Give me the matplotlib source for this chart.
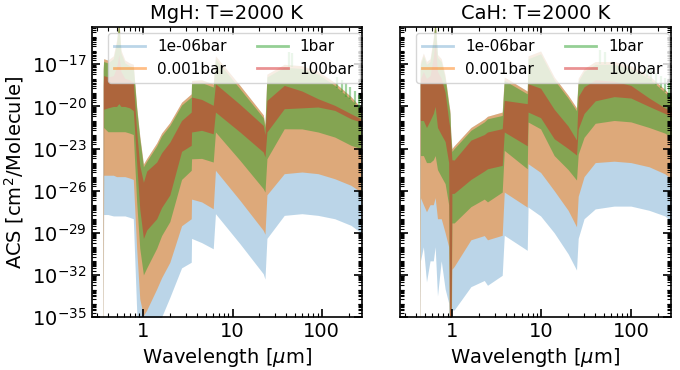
import numpy as np
import matplotlib
matplotlib.use("Agg")
import matplotlib.pyplot as plt
from matplotlib.lines import Line2D
from matplotlib.ticker import LogLocator, FixedLocator, NullFormatter

# ---------------- data (log10 of cross-section envelopes) ----------------
labels = ["1e-06bar", "0.001bar", "1bar", "100bar"]
colors = ["#1f77b4", "#ff7f0e", "#2ca02c", "#d62728"]
alphas = [0.3, 0.5, 0.5, 0.5]

# MgH
mgh_wl = [0.354, 0.358, 0.40, 0.46, 0.50, 0.53, 0.56, 0.62, 0.70, 0.77, 0.84, 0.91, 1.00,
          1.09, 1.41, 1.60, 1.98, 2.68, 3.44, 3.47, 4.5, 6.07, 6.43, 12.1, 22.1, 23.1, 24.3,
          38, 60, 91, 140, 213, 276]
mgh_b_lo = [-40, -27.7, -27.7, -27.8, -27.8, -27.8, -27.8, -27.8, -27.9, -28.0, -34.5, -38, -40,
            -40, -36, -35, -33.6, -31.5, -31.1, -29.4, -29.7, -30.14, -27.64, -29.78, -31.92, -32.3, -29.4,
            -27.76, -27.64, -27.76, -28.0, -28.47, -29.0]
mgh_o_lo = [-40, -24.9, -24.9, -24.9, -25.0, -25.0, -25.0, -25.0, -25.1, -25.2, -30.1, -33.7, -34.9,
            -34.5, -33.0, -32.2, -31.1, -28.5, -28.0, -26.6, -26.8, -27.29, -24.55, -26.69, -28.83, -29.1, -26.3,
            -24.79, -24.67, -24.79, -25.15, -25.62, -26.1]
mgh_g_lo = [-40, -21.5, -21.8, -21.8, -21.8, -21.8, -21.8, -21.8, -21.9, -22.0, -26.8, -30.1, -32.0,
            -31.5, -30.1, -29.2, -28.2, -25.2, -24.55, -23.73, -23.7, -23.96, -21.82, -23.84, -25.86, -26.1, -23.73,
            -21.59, -21.6, -21.82, -22.18, -22.77, -23.0]
mgh_r_lo = [-40, -20.2, -20.1, -20.0, -20.0, -19.8, -20.0, -20.0, -20.1, -20.3, -24.0, -27.3, -29.4,
            -28.8, -28.0, -27.2, -26.3, -23.2, -22.77, -21.82, -21.7, -21.95, -20.40, -21.82, -23.25, -23.6, -21.82,
            -20.16, -20.1, -20.04, -20.28, -20.88, -21.11]
mgh_r_hi = [-18.5, -17.8, -17.9, -17.8, -17.2, -16.3, -17.5, -18.0, -18.1, -18.3, -21.8, -24.2, -25.4,
            -24.6, -23.96, -23.3, -22.54, -21.0, -20.4, -19.33, -19.5, -19.92, -18.38, -19.85, -21.35, -22.0, -19.57,
            -18.5, -18.9, -19.45, -19.92, -20.52, -20.88]
mgh_g_hi = [-17.5, -16.8, -16.9, -16.6, -15.5, -14.0, -16.2, -16.9, -17.1, -17.2, -20.2, -22.3, -24.3,
            -23.9, -22.8, -22.1, -21.35, -19.9, -19.33, -18.38, -18.3, -18.62, -16.6, -18.74, -20.8, -21.5, -17.9,
            -17.2, -17.3, -17.7, -18.5, -19.5, -20.3]
mgh_o_hi = [-17.3, -16.6, -16.7, -16.4, -15.3, -13.8, -16.0, -16.7, -16.9, -17.0, -20.0, -22.1, -24.1,
            -23.7, -22.6, -21.9, -21.15, -19.7, -19.1, -18.15, -18.1, -18.4, -16.4, -18.5, -20.6, -21.3, -17.7,
            -17.0, -17.1, -17.5, -18.3, -19.3, -20.1]
mgh_b_hi = mgh_o_hi
# individual strong rotational lines standing above the 1 bar band (long wavelengths)
mgh_line_wl = [43, 47, 150, 168, 188, 210, 234, 260]
mgh_line_base = [-17.2, -17.2, -18.7, -19.0, -19.3, -19.5, -19.8, -20.1]
mgh_line_top = [-16.1, -16.2, -17.9, -18.1, -18.3, -18.6, -18.9, -19.2]

# CaH
cah_wl = [0.441, 0.445, 0.48, 0.52, 0.57, 0.62, 0.65, 0.69, 0.76, 0.84, 0.92, 0.95, 0.97, 1.00,
          1.06, 1.63, 2.3, 2.5, 3.65, 3.85, 6.95, 7.1, 9.8, 13.9, 19.9, 24.7, 25.8,
          30, 40, 65, 100, 160, 240, 300]
cah_b_lo = [-40, -31.0, -30.0, -32.5, -31.0, -31.0, -30.0, -33.5, -31.0, -33.0, -34.0, -40, -40, -34.5,
            -34.5, -32.84, -32.4, -32.74, -32.03, -29.18, -30.25, -27.17, -27.8, -29.0, -30.5, -31.65, -29.4,
            -28.0, -27.3, -27.1, -27.1, -27.4, -27.8, -28.3]
cah_o_lo = [-40, -26.5, -27.0, -27.5, -27.0, -27.0, -26.5, -28.0, -28.0, -29.0, -30.0, -40, -40, -31.6,
            -31.4, -29.5, -29.2, -29.5, -29.18, -26.1, -27.17, -24.08, -24.7, -26.0, -27.4, -28.57, -26.4,
            -25.0, -24.0, -23.9, -24.0, -24.3, -24.8, -25.3]
cah_g_lo = [-40, -23.5, -23.5, -24.0, -24.0, -23.8, -23.5, -24.5, -25.0, -25.5, -27.0, -40, -40, -28.3,
            -28.3, -27.14, -26.6, -26.8, -26.1, -23.13, -24.44, -21.11, -21.6, -23.5, -24.5, -25.24, -23.4,
            -22.2, -21.2, -21.0, -21.1, -21.5, -21.9, -22.3]
cah_r_lo = [-40, -21.0, -21.0, -21.5, -21.0, -20.5, -20.0, -21.5, -22.0, -22.5, -24.0, -40, -40, -26.2,
            -26.19, -25.2, -24.6, -24.44, -24.2, -21.82, -22.8, -20.40, -20.8, -22.3, -23.0, -23.46, -21.6,
            -20.5, -19.6, -19.3, -19.4, -20.0, -20.5, -20.8]
cah_r_hi = [-18.5, -18.0, -17.5, -18.0, -17.8, -16.5, -15.3, -17.5, -18.0, -19.0, -21.0, -21.5, -22.5, -23.8,
            -23.82, -22.4, -22.0, -21.82, -21.58, -19.57, -19.8, -18.38, -18.7, -20.2, -21.4, -22.39, -19.3,
            -18.6, -18.1, -18.2, -18.5, -19.4, -20.1, -20.4]
cah_g_hi = [-17.5, -17.0, -16.4, -17.0, -16.8, -15.3, -14.0, -16.5, -16.8, -18.0, -19.9, -20.5, -22.0, -23.2,
            -23.0, -21.7, -21.1, -20.88, -20.64, -18.14, -19.1, -16.6, -16.25, -18.1, -19.4, -20.3, -18.2,
            -17.5, -17.0, -17.0, -17.3, -18.0, -19.0, -19.6]
cah_o_hi = [-17.3, -16.8, -16.2, -16.8, -16.6, -15.1, -13.8, -16.3, -16.6, -17.8, -19.7, -20.3, -21.8, -23.0,
            -22.8, -21.5, -20.9, -20.7, -20.4, -17.9, -18.9, -16.4, -16.05, -17.9, -19.2, -20.1, -18.0,
            -17.3, -16.8, -16.8, -17.1, -17.8, -18.8, -19.4]
cah_b_hi = cah_o_hi
cah_line_wl = [45, 52, 150, 170, 192, 215, 240, 268, 292]
cah_line_base = [-17.0, -17.0, -17.9, -18.2, -18.5, -18.7, -19.0, -19.3, -19.5]
cah_line_top = [-16.0, -16.1, -17.2, -17.4, -17.6, -17.8, -18.0, -18.3, -18.6]

panels = [
    ("MgH: T=2000 K", mgh_wl,
     [(mgh_b_lo, mgh_b_hi), (mgh_o_lo, mgh_o_hi), (mgh_g_lo, mgh_g_hi), (mgh_r_lo, mgh_r_hi)],
     (mgh_line_wl, mgh_line_base, mgh_line_top)),
    ("CaH: T=2000 K", cah_wl,
     [(cah_b_lo, cah_b_hi), (cah_o_lo, cah_o_hi), (cah_g_lo, cah_g_hi), (cah_r_lo, cah_r_hi)],
     (cah_line_wl, cah_line_base, cah_line_top)),
]

y_major = [1e-35, 1e-32, 1e-29, 1e-26, 1e-23, 1e-20, 1e-17]

# ---------------- figure ----------------
fig = plt.figure(figsize=(6.8, 3.7), dpi=100)
W, H = 680.0, 370.0
ax_rects = [(91.7, 27.0, 361.7, 317.0), (400.0, 27.0, 671.0, 317.0)]

for i, ((title, wl, series, lines), (x0, y0, x1, y1)) in enumerate(zip(panels, ax_rects)):
    ax = fig.add_axes([x0 / W, 1 - y1 / H, (x1 - x0) / W, (y1 - y0) / H])
    wl = np.asarray(wl)
    for (lo, hi), c, a in zip(series, colors, alphas):
        ax.fill_between(wl, 10.0 ** np.asarray(lo), 10.0 ** np.asarray(hi),
                        color=c, alpha=a, linewidth=0)
    lw_, lb_, lt_ = lines
    ax.vlines(lw_, 10.0 ** np.asarray(lb_), 10.0 ** np.asarray(lt_),
              color=colors[2], alpha=0.45, linewidth=1.6)
    ax.set_xscale("log")
    ax.set_yscale("log")
    ax.set_xlim(0.263, 281)
    ax.set_ylim(1e-35, 10 ** -14.34)
    ax.yaxis.set_major_locator(FixedLocator(y_major))
    ax.yaxis.set_minor_locator(LogLocator(base=10, subs=np.arange(2, 10), numticks=200))
    ax.yaxis.set_minor_formatter(NullFormatter())
    ax.xaxis.set_minor_locator(LogLocator(base=10, subs=np.arange(2, 10), numticks=50))
    ax.xaxis.set_minor_formatter(NullFormatter())
    ax.set_xticks([1, 10, 100])
    ax.set_xticklabels(["1", "10", "100"])
    ax.tick_params(which="both", direction="in", top=True, right=True, labelsize=14)
    ax.tick_params(which="major", length=6, width=1.2)
    ax.tick_params(which="minor", length=3, width=0.8)
    for sp in ax.spines.values():
        sp.set_linewidth(1.2)
    ax.set_title(title, fontsize=14)
    ax.set_xlabel(r"Wavelength [$\mu$m]", fontsize=14)
    if i == 0:
        ax.set_ylabel(r"ACS [cm$^2$/Molecule]", fontsize=14)
    else:
        ax.tick_params(labelleft=False)
    handles = [Line2D([], [], color=c, alpha=a, lw=2) for c, a in zip(colors, alphas)]
    width = x1 - x0
    ax.legend(handles, labels, loc="upper left", ncol=2, fontsize=11,
              bbox_to_anchor=(16.3 / width, 1 - 6.0 / (y1 - y0)), borderaxespad=0)

fig.savefig("out.png", dpi=100)
